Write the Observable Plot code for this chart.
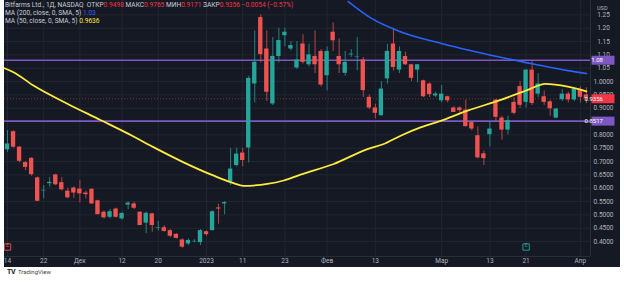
<!DOCTYPE html>
<html><head><meta charset="utf-8">
<script src="https://cdn.jsdelivr.net/npm/d3@7"></script>
<script src="https://cdn.jsdelivr.net/npm/@observablehq/plot@0.6"></script>
<style>
html,body{margin:0;padding:0;background:#fff;}
#wrap{position:relative;width:624px;height:282px;background:#fff;overflow:hidden;}
#chart{position:absolute;left:4px;top:0;}
#hdr{position:absolute;left:5px;top:1px;font-family:Roboto,sans-serif;font-size:6.6px;color:#c9ccd4;line-height:8px;white-space:nowrap;}
#foot{position:absolute;left:7px;top:268px;font-family:Roboto,sans-serif;font-size:6px;color:#444;white-space:nowrap;}
#foot b{font-size:7px;color:#222;margin-right:3px;letter-spacing:-0.5px;}
</style></head><body>
<div id="wrap"><div id="chart"></div><div id="hdr"></div><div id="foot"><b>TV</b>TradingView</div></div>
<script>
// Daily OHLC, Nov 14 2022 .. Apr 4 2023 (trading-day index 0..96)
const open  = [0.744,0.812,0.754,0.696,0.712,0.639,0.590,0.617,0.650,0.621,0.589,0.601,0.597,0.582,0.596,0.553,0.510,0.491,0.522,0.485,0.537,0.541,0.510,0.469,0.504,0.450,0.452,0.441,0.427,0.406,0.391,0.399,0.396,0.437,0.441,0.526,0.541,0.622,0.685,0.732,0.751,0.991,1.240,1.122,0.916,1.094,1.172,1.122,1.051,1.141,1.063,1.094,1.113,1.022,1.185,1.094,1.031,1.100,1.090,1.081,0.941,0.901,0.872,1.010,1.141,1.043,1.094,1.063,1.043,1.003,0.991,0.946,0.928,0.943,0.901,0.901,0.893,0.846,0.797,0.729,0.801,0.931,0.863,0.818,0.922,0.981,0.922,1.043,0.953,0.943,0.924,0.863,0.932,0.953,0.931,0.968,0.9498];
const high  = [0.816,0.815,0.757,0.700,0.715,0.642,0.610,0.641,0.652,0.640,0.600,0.605,0.630,0.590,0.598,0.555,0.515,0.520,0.525,0.510,0.550,0.548,0.512,0.510,0.506,0.476,0.460,0.445,0.430,0.410,0.410,0.407,0.445,0.440,0.515,0.540,0.550,0.750,0.750,0.750,1.020,1.190,1.250,1.190,1.165,1.200,1.200,1.150,1.150,1.175,1.140,1.190,1.120,1.130,1.220,1.160,1.113,1.120,1.165,1.090,0.950,0.915,1.000,1.140,1.200,1.130,1.110,1.065,1.063,1.005,0.995,0.960,0.985,0.945,0.905,0.905,0.930,0.850,0.830,0.740,0.850,0.932,0.870,0.870,0.940,1.000,1.045,1.075,1.030,0.965,0.930,0.900,0.970,0.960,0.975,0.980,0.9765];
const low   = [0.735,0.750,0.695,0.666,0.645,0.550,0.560,0.604,0.610,0.590,0.560,0.563,0.545,0.560,0.540,0.500,0.485,0.485,0.488,0.480,0.520,0.520,0.460,0.430,0.435,0.440,0.435,0.415,0.410,0.375,0.385,0.395,0.385,0.420,0.440,0.465,0.500,0.610,0.680,0.680,0.695,0.920,1.070,0.925,0.910,1.070,1.130,1.115,1.045,1.065,1.055,1.030,0.980,0.965,1.113,1.030,1.020,1.090,1.040,0.940,0.895,0.860,0.870,0.990,1.040,1.030,1.060,1.000,0.995,0.940,0.940,0.940,0.920,0.920,0.884,0.880,0.830,0.815,0.710,0.685,0.755,0.850,0.780,0.800,0.875,0.900,0.900,0.910,0.940,0.910,0.870,0.860,0.925,0.920,0.925,0.920,0.9171];
const close = [0.766,0.754,0.701,0.678,0.651,0.551,0.592,0.622,0.613,0.594,0.564,0.582,0.579,0.576,0.541,0.501,0.489,0.512,0.491,0.505,0.544,0.525,0.460,0.506,0.460,0.452,0.438,0.420,0.412,0.379,0.404,0.401,0.441,0.426,0.512,0.522,0.546,0.672,0.728,0.704,1.012,1.072,1.101,0.960,1.094,1.154,1.185,1.135,1.081,1.072,1.100,1.063,0.987,1.113,1.153,1.063,1.072,1.103,1.092,0.966,0.901,0.881,0.972,1.113,1.053,1.113,1.063,1.012,1.063,0.943,0.951,0.953,0.953,0.928,0.884,0.891,0.831,0.822,0.714,0.711,0.822,0.866,0.818,0.854,0.881,0.911,1.043,0.918,0.991,0.922,0.898,0.897,0.953,0.931,0.972,0.941,0.9356];

// Moving averages: [day index, value]
const ma50Day  = [-0.5,1,4.3,10,15.4,20.9,24.2,29.2,34.2,37.5,39.1,43.1,45.8,48.6,54.1,59.7,62.4,65.2,68.5,72.3,76.3,81.8,86.2,89.2,92.9,96];
const ma50Val  = [1.050,1.035,0.985,0.916,0.856,0.794,0.754,0.697,0.647,0.619,0.609,0.616,0.629,0.651,0.691,0.747,0.766,0.797,0.828,0.856,0.891,0.931,0.968,0.991,0.981,0.9636];
const ma200Day = [56.5,60.5,64.7,72.3,81.8,87.2,92.9,96];
const ma200Val = [1.300,1.235,1.191,1.141,1.091,1.066,1.041,1.030];

// Levels
const levels = [1.08, 0.8517];

// Earnings markers
const earnDay = [0, 86];
const earnBeat = [false, true];

// Axis ticks
const xTickDays = [0,6,12,19,25,33,39,46,53,61,72,80,86,95];
const xTickLabels = ["14","22","Дек","12","20","2023","11","23","Фев","13","Мар","13","21","Апр"];
const yTicks = [0.40,0.45,0.50,0.55,0.60,0.65,0.70,0.75,0.80,0.85,0.90,0.95,1.00,1.05,1.10,1.15,1.20,1.25];

const UP = "#26a69a", DN = "#ef5350", BG = "#151924", GRID = "#222633";
const bars = close.map((c, i) => ({i, o: open[i], h: high[i], l: low[i], c, col: c >= open[i] ? UP : DN}));
const ma50 = ma50Day.map((d, k) => ({d, v: ma50Val[k]}));
const ma200 = ma200Day.map((d, k) => ({d, v: ma200Val[k]}));
const earn = earnDay.map((d, k) => ({d, col: earnBeat[k] ? UP : DN}));
const labMap = new Map(xTickDays.map((d, k) => [d, xTickLabels[k]]));
const last = bars[bars.length - 1];
const prev = bars[bars.length - 2];
const fmtY = d => d < 1.025 ? d.toFixed(4) : d.toFixed(2);
const boxSym = {draw(ctx) { ctx.rect(-11.5, -4.5, 23, 9); }};

const chart = Plot.plot({
  width: 616, height: 267,
  marginLeft: 0, marginRight: 30, marginTop: 0, marginBottom: 11,
  style: {background: BG, color: "#b2b5be", fontFamily: "Roboto, sans-serif", fontSize: "6.5px"},
  x: {type: "linear", domain: [-0.5, 96.68]},
  y: {domain: [0.344, 1.304]},
  color: {type: "identity"},
  marks: [
    Plot.gridY(yTicks, {stroke: GRID, strokeOpacity: 1}),
    Plot.gridX(xTickDays, {stroke: GRID, strokeOpacity: 1}),
    Plot.ruleY([last.c], {stroke: DN, strokeOpacity: 0.45, strokeDasharray: "1,2"}),
    Plot.ruleY(levels, {stroke: "#7e57c2", strokeWidth: 1.6}),
    Plot.ruleX(bars, {x: "i", y1: "l", y2: "h", stroke: "col", strokeOpacity: 0.75}),
    Plot.rect(bars, {x1: d => d.i - 0.36, x2: d => d.i + 0.36, y1: "o", y2: "c", fill: "col"}),
    Plot.line(ma200, {x: "d", y: "v", stroke: "#2962ff", strokeWidth: 1.6, curve: "monotone-x", clip: true}),
    Plot.line(ma50, {x: "d", y: "v", stroke: "#ffeb3b", strokeWidth: 1.8, curve: "monotone-x", clip: true}),
    Plot.dot(earn, {x: "d", frameAnchor: "bottom", dy: -9.5, symbol: "square", r: 3.6, stroke: "col", fill: BG, strokeWidth: 0.9}),
    Plot.text(earn, {x: "d", frameAnchor: "bottom", dy: -9.5, text: () => "E", fill: "col", fontSize: 5}),
    Plot.axisX(xTickDays, {tickSize: 0, tickPadding: 2, tickFormat: d => labMap.get(d), fill: "#b2b5be"}),
    Plot.axisY(yTicks, {anchor: "right", tickSize: 0, tickPadding: 13, textAnchor: "middle", tickFormat: fmtY, fill: "#b2b5be"}),
    Plot.ruleX([96.68], {stroke: "#2a2e39"}),
    Plot.ruleY([0.344], {stroke: "#2a2e39"}),
    Plot.dot(levels, {y: d => d, frameAnchor: "right", dx: 12.5, symbol: boxSym, fill: "#7e57c2", stroke: "none"}),
    Plot.text(levels, {y: d => d, frameAnchor: "right", dx: 12.5, text: d => String(d), fill: "#fff", fontSize: 6}),
    Plot.dot([last.c], {y: d => d, frameAnchor: "right", dx: 12.5, symbol: boxSym, fill: "#f23645", stroke: "none"}),
    Plot.text([last.c], {y: d => d, frameAnchor: "right", dx: 12.5, text: d => d.toFixed(4), fill: "#fff", fontSize: 6}),
    Plot.text(["USD"], {frameAnchor: "top-right", dx: 17, dy: 6, fill: "#b2b5be", fontSize: 5.5})
  ]
});
document.getElementById("chart").append(chart);

const chg = last.c - prev.c;
const red = v => `<span style="color:#f23645">${v}</span>`;
document.getElementById("hdr").innerHTML =
  `Bitfarms Ltd., 1Д, NASDAQ&nbsp;&nbsp;ОТКР${red(last.o.toFixed(4))} МАКС${red(last.h.toFixed(4))} МИН${red(last.l.toFixed(4))} ЗАКР${red(last.c.toFixed(4))} ${red(chg.toFixed(4).replace("-", "−") + " (" + (chg / prev.c * 100).toFixed(2).replace("-", "−") + "%)")}<br>` +
  `MA (200, close, 0, SMA, 5) <span style="color:#2962ff">${ma200Val[ma200Val.length - 1].toFixed(2)}</span><br>` +
  `MA (50, close, 0, SMA, 5) <span style="color:#ffeb3b">${ma50Val[ma50Val.length - 1]}</span>`;
</script>
</body></html>
